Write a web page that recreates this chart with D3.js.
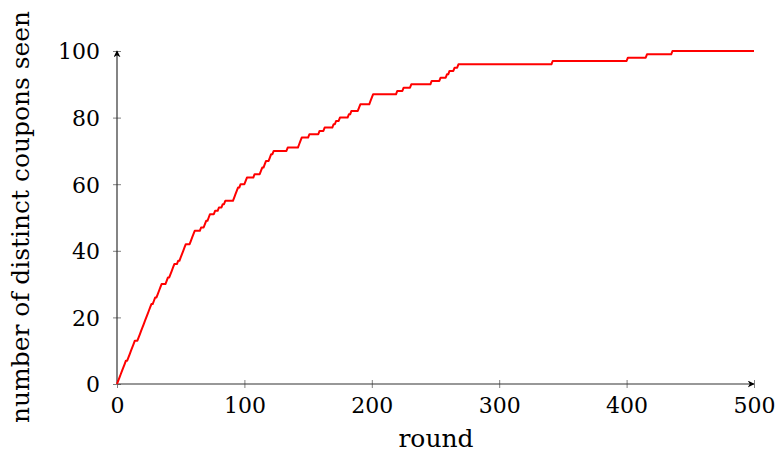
<!DOCTYPE html>
<html>
<head>
<meta charset="utf-8">
<script src="https://cdn.jsdelivr.net/npm/d3@7"></script>
<style>
  body { margin: 0; background: #fff; }
  svg text { font-family: "DejaVu Serif", "Liberation Serif", serif; fill: #000; }
</style>
</head>
<body>
<div id="chart"></div>
<script>
var width = 777
var height = 454

// round at which the k-th distinct coupon was first seen (k = 1..100)
var firstSeenRound = [
  1, 2, 3, 4, 5, 6, 7,
  9, 10, 11, 12, 13, 14,
  17, 18, 19, 20,
  21, 22, 23, 24, 25, 26, 27,
  29, 30,
  32, 33, 34, 35,
  39, 40, 42, 43, 44, 45, 48, 50, 51, 52, 53, 54,
  58, 59, 60, 61, 66,
  69, 70, 72, 73, 77, 80, 83, 85,
  92, 93, 94, 95, 97,
  101, 102, 108,
  113, 114, 116, 117, 120, 121, 123,
  134, 143, 144, 145, 151,
  159, 163, 170, 172, 175,
  182, 184, 190, 191,
  199, 200, 201,
  220, 225, 231,
  247, 254, 259, 261, 265, 268,
  342, 401, 416, 436
];
var lastRound = 500;

var xTicks = [0, 100, 200, 300, 400, 500];
var yTicks = [0, 20, 40, 60, 80, 100];

var svg = d3.select("#chart").append("svg")
    .attr("width", width)
    .attr("height", height);

var defs = svg.append("defs");
defs.append("marker")
    .attr("id", "arrow")
    .attr("viewBox", "0 0 10 10")
    .attr("refX", 9)
    .attr("refY", 5)
    .attr("markerWidth", 7)
    .attr("markerHeight", 7)
    .attr("markerUnits", "userSpaceOnUse")
    .attr("orient", "auto")
    .append("path")
    .attr("d", "M0,0 L10,5 L0,10 L3,5 Z")
    .attr("fill", "#000");

var xScale = d3.scaleLinear().domain([0, 500]).range([117, 754]);
var yScale = d3.scaleLinear().domain([0, 100]).range([384, 51]);

// build the curve: each new coupon is a one-round jump
var points = [[0, 0]];
firstSeenRound.forEach(function(r, i) {
    points.push([r - 1, i]);
    points.push([r, i + 1]);
});
points.push([lastRound, firstSeenRound.length]);

var xAxis = svg.append("g")
    .attr("transform", "translate(0," + yScale(0) + ")")
    .call(d3.axisBottom(xScale).tickValues(xTicks).tickSize(4).tickPadding(8));

var yAxis = svg.append("g")
    .attr("transform", "translate(" + xScale(0) + ",0)")
    .call(d3.axisLeft(yScale).tickValues(yTicks).tickSize(4).tickPadding(8));

[xAxis, yAxis].forEach(function(g) {
    g.select(".domain").remove();
    g.selectAll(".tick line").attr("stroke", "#808080").attr("stroke-width", 1);
    g.selectAll(".tick text")
        .attr("font-size", 22)
        .attr("font-family", "DejaVu Serif, Liberation Serif, serif");
});
xAxis.selectAll(".tick line").attr("y1", -4).attr("y2", 4);
xAxis.selectAll(".tick text").attr("y", 13);
yAxis.selectAll(".tick line").attr("x1", 4).attr("x2", -4);
yAxis.selectAll(".tick text").attr("x", -17).attr("dy", "0.36em");

// axis lines with arrow tips
svg.append("line")
    .attr("x1", xScale(0)).attr("y1", yScale(0))
    .attr("x2", xScale(500)).attr("y2", yScale(0))
    .attr("stroke", "#333").attr("stroke-width", 1.2)
    .attr("marker-end", "url(#arrow)");
svg.append("line")
    .attr("x1", xScale(0)).attr("y1", yScale(0))
    .attr("x2", xScale(0)).attr("y2", yScale(100))
    .attr("stroke", "#333").attr("stroke-width", 1.2)
    .attr("marker-end", "url(#arrow)");

var line = d3.line()
    .x(function(d) { return xScale(d[0]); })
    .y(function(d) { return yScale(d[1]); });

svg.append("path")
    .datum(points)
    .attr("fill", "none")
    .attr("stroke", "#ff0000")
    .attr("stroke-width", 2)
    .attr("stroke-linejoin", "round")
    .attr("d", line);

svg.append("text")
    .attr("x", 436)
    .attr("y", 447)
    .attr("text-anchor", "middle")
    .attr("font-size", 25)
    .text("round");

svg.append("text")
    .attr("transform", "translate(29," + 217 + ") rotate(-90)")
    .attr("text-anchor", "middle")
    .attr("font-size", 25)
    .attr("textLength", 412)
    .attr("lengthAdjust", "spacingAndGlyphs")
    .text("number of distinct coupons seen");
</script>
</body>
</html>
